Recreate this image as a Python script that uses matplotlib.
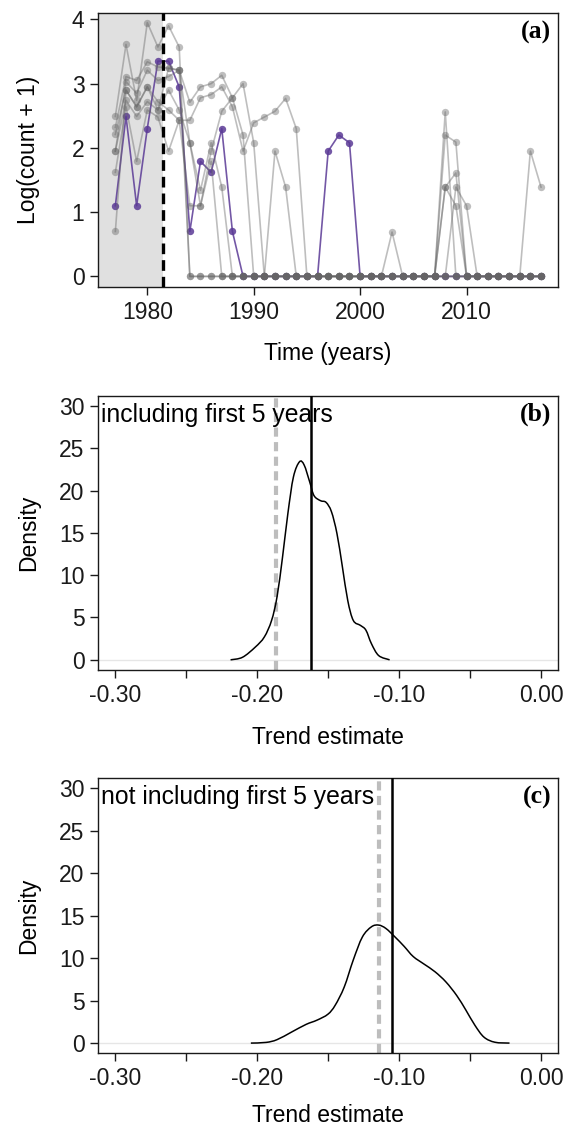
import numpy as np
import matplotlib
matplotlib.use("Agg")
import matplotlib.pyplot as plt
from matplotlib.path import Path
from matplotlib.patches import PathPatch

plt.rcParams['font.family'] = ['Liberation Sans', 'DejaVu Sans']

# ---------------- data: panel (a) ----------------
first_year = 1977
last_year = 2017
years = list(range(first_year, last_year + 1))
cutoff_year = 1981.5

def series(early, later, blips):
    # early: 1977..1983 values, later / blips: dict year->value (others zero)
    vals = [0.0] * len(years)
    for i, v in enumerate(early):
        vals[i] = v
    for y, v in later.items():
        vals[y - first_year] = v
    for y, v in blips.items():
        vals[y - first_year] = v
    return vals

purple_series = series([1.10, 2.49, 1.10, 2.30, 3.35, 3.35, 2.95],
                       {1984: 0.70, 1985: 1.79, 1986: 1.62, 1987: 2.30, 1988: 0.70},
                       {1997: 1.95, 1998: 2.20, 1999: 2.08})

gray_1 = series([2.49, 3.61, 2.74, 3.95, 3.57, 3.90, 3.57],
                {},
                {1992: 1.95, 1993: 1.39, 2016: 1.95, 2017: 1.39})
gray_2 = series([2.32, 3.11, 3.05, 3.34, 3.26, 3.24, 3.21],
                {1984: 2.71, 1985: 2.95, 1986: 3.00, 1987: 3.13, 1988: 2.78,
                 1989: 3.00, 1990: 2.08},
                {2009: 1.39, 2010: 1.10})
gray_3 = series([2.21, 2.90, 2.64, 2.95, 2.72, 2.59, 2.43],
                {1984: 2.43, 1985: 2.78, 1986: 2.83, 1987: 2.95, 1988: 2.64,
                 1989: 1.95, 1990: 2.39, 1991: 2.48, 1992: 2.57, 1993: 2.77,
                 1994: 2.30},
                {2003: 0.69})
gray_4 = series([1.95, 3.03, 2.85, 3.21, 3.05, 3.11, 3.21],
                {1984: 2.08, 1985: 1.10, 1986: 1.95, 1987: 2.57, 1988: 2.78,
                 1989: 2.20},
                {2008: 2.56})
gray_5 = series([1.95, 2.74, 2.49, 2.72, 2.59, 2.90, 2.59],
                {1984: 2.08, 1985: 1.34, 1986: 2.08, 1987: 1.39},
                {2008: 2.20, 2009: 2.09})
gray_6 = series([1.62, 2.64, 1.79, 2.59, 2.48, 1.95, 2.43],
                {1984: 1.10, 1985: 1.10, 1986: 1.79},
                {2008: 1.39, 2009: 1.61})
gray_7 = series([0.70, 2.90, 2.64, 2.95, 2.59, 3.24, 3.21],
                {},
                {2008: 1.39, 2009: 1.10})
gray_series = [gray_1, gray_2, gray_3, gray_4, gray_5, gray_6, gray_7]

# ---------------- data: panels (b) and (c) ----------------
dens_b_x = [-0.2188, -0.2104, -0.2014, -0.1950, -0.1899, -0.1861, -0.1822, -0.1784,
            -0.1745, -0.1702, -0.1669, -0.1630, -0.1600, -0.1554, -0.1515, -0.1477,
            -0.1438, -0.1400, -0.1362, -0.1323, -0.1272, -0.1234, -0.1195, -0.1144,
            -0.1067]
dens_b_y = [0.0, 0.3, 1.5, 2.7, 4.65, 7.4, 12.1, 17.3,
            21.6, 23.4, 23.0, 21.0, 19.4, 18.8, 18.6, 17.5,
            14.9, 11.0, 7.0, 4.65, 4.06, 3.5, 1.9, 0.5,
            0.0]
dens_c_x = [-0.2045, -0.1938, -0.1861, -0.1758, -0.1656, -0.1579, -0.1502, -0.1451,
            -0.1387, -0.1323, -0.1259, -0.1195, -0.1144, -0.1093, -0.1029, -0.0965,
            -0.0901, -0.0824, -0.0747, -0.0670, -0.0594, -0.0530, -0.0466, -0.0402,
            -0.0325, -0.0222]
dens_c_y = [0.0, 0.08, 0.4, 1.3, 2.2, 2.7, 3.4, 4.45,
            6.6, 9.8, 12.5, 13.7, 13.9, 13.5, 12.5, 11.4,
            10.2, 9.3, 8.4, 7.2, 5.6, 3.9, 2.1, 0.7,
            0.1, 0.0]
true_trend_b = -0.1869
mean_trend_b = -0.1618
true_trend_c = -0.1144
mean_trend_c = -0.1049

label_b = "including first 5 years"
label_c = "not including first 5 years"

# ---------------- styling ----------------
FS = 16.5
TAG_FS = 18.5
GRAY = '#666666'
PURPLE = '#5b3a96'

fig = plt.figure(figsize=(5.72, 11.3), dpi=100)
ax_a = fig.add_axes([0.1719, 0.7463, 0.8037, 0.2425])
ax_b = fig.add_axes([0.1719, 0.4071, 0.8037, 0.2427])
ax_c = fig.add_axes([0.1719, 0.0679, 0.8037, 0.2434])

def style(ax):
    for s in ax.spines.values():
        s.set_linewidth(1.0)
        s.set_color('#1a1a1a')
    ax.tick_params(direction='out', length=6, width=1.0, color='#1a1a1a',
                   labelsize=FS, pad=4, labelcolor='#1a1a1a')

def smooth_path(xs, ys):
    # Catmull-Rom curve through the read points, drawn as cubic Bezier pieces
    p = np.column_stack([xs, ys]).astype(float)
    n = len(p)
    verts = [p[0]]
    codes = [Path.MOVETO]
    for i in range(n - 1):
        p0 = p[i - 1] if i > 0 else p[i]
        p1 = p[i]
        p2 = p[i + 1]
        p3 = p[i + 2] if i + 2 < n else p[i + 1]
        c1 = p1 + (p2 - p0) / 6.0
        c2 = p2 - (p3 - p1) / 6.0
        verts += [c1, c2, p2]
        codes += [Path.CURVE4] * 3
    return Path(verts, codes)

# ----- panel (a)
ax = ax_a
xlo, xhi = 1975.4, 2018.6
ax.axvspan(xlo, cutoff_year, color='#e0e0e0', zorder=0, lw=0)
ax.plot(years, purple_series, '-o', color=PURPLE, alpha=0.85, lw=1.2, ms=5.3,
        mec='none', zorder=2)
for s in gray_series:
    ax.plot(years, s, '-o', color=GRAY, alpha=0.42, lw=1.2, ms=5.3,
            mec='none', zorder=3)
ax.axvline(cutoff_year, color='black', lw=2.4, ls=(0, (3.2, 1.8)), zorder=5)
ax.set_xlim(xlo, xhi)
ax.set_ylim(-0.16, 4.105)
ax.set_xticks([1980, 1990, 2000, 2010])
ax.set_yticks([0, 1, 2, 3, 4])
style(ax)
ax.set_xlabel("Time (years)", fontsize=FS)
ax.set_ylabel("Log(count + 1)", fontsize=FS)
ax.xaxis.set_label_coords(0.5, -0.245)
ax.xaxis.label.set_va('center')
ax.yaxis.set_label_coords(-0.151, 0.5)
ax.yaxis.label.set_va('center')
ax.text(0.985, 0.927, "(a)", transform=ax.transAxes, ha='right', va='center',
        fontsize=TAG_FS, fontweight='bold', family='Liberation Serif')

# ----- panels (b), (c)
def dens_panel(ax, xs, ys, true_v, mean_v, txt, tag, label_y):
    ax.axhline(0, color='#e6e6e6', lw=1.0, zorder=1)
    ax.add_patch(PathPatch(smooth_path(xs, ys), fill=False, edgecolor='black',
                           lw=1.1, zorder=3))
    ax.axvline(true_v, color='#bdbdbd', lw=3.0, ls=(0, (2.2, 1.3)), zorder=2)
    ax.axvline(mean_v, color='black', lw=1.8, zorder=4)
    ax.set_xlim(-0.312, 0.012)
    ax.set_ylim(-1.2, 31.2)
    ticks = [-0.30, -0.25, -0.20, -0.15, -0.10, -0.05, 0.00]
    ax.set_xticks(ticks)
    ax.set_xticklabels(['-0.30', '', '-0.20', '', '-0.10', '', '0.00'])
    ax.set_yticks([0, 5, 10, 15, 20, 25, 30])
    style(ax)
    ax.set_xlabel("Trend estimate", fontsize=FS)
    ax.set_ylabel("Density", fontsize=FS)
    ax.xaxis.set_label_coords(0.5, label_y)
    ax.xaxis.label.set_va('center')
    ax.yaxis.set_label_coords(-0.151, 0.5)
    ax.yaxis.label.set_va('center')
    ax.text(0.006, 0.931, txt, transform=ax.transAxes, ha='left', va='center',
            fontsize=FS + 1.3, zorder=6)
    ax.text(0.985, 0.931, tag, transform=ax.transAxes, ha='right', va='center',
            fontsize=TAG_FS, fontweight='bold', family='Liberation Serif')

dens_panel(ax_b, dens_b_x, dens_b_y, true_trend_b, mean_trend_b, label_b, "(b)", -0.245)
dens_panel(ax_c, dens_c_x, dens_c_y, true_trend_c, mean_trend_c, label_c, "(c)", -0.228)

fig.savefig("out.png", dpi=100)
